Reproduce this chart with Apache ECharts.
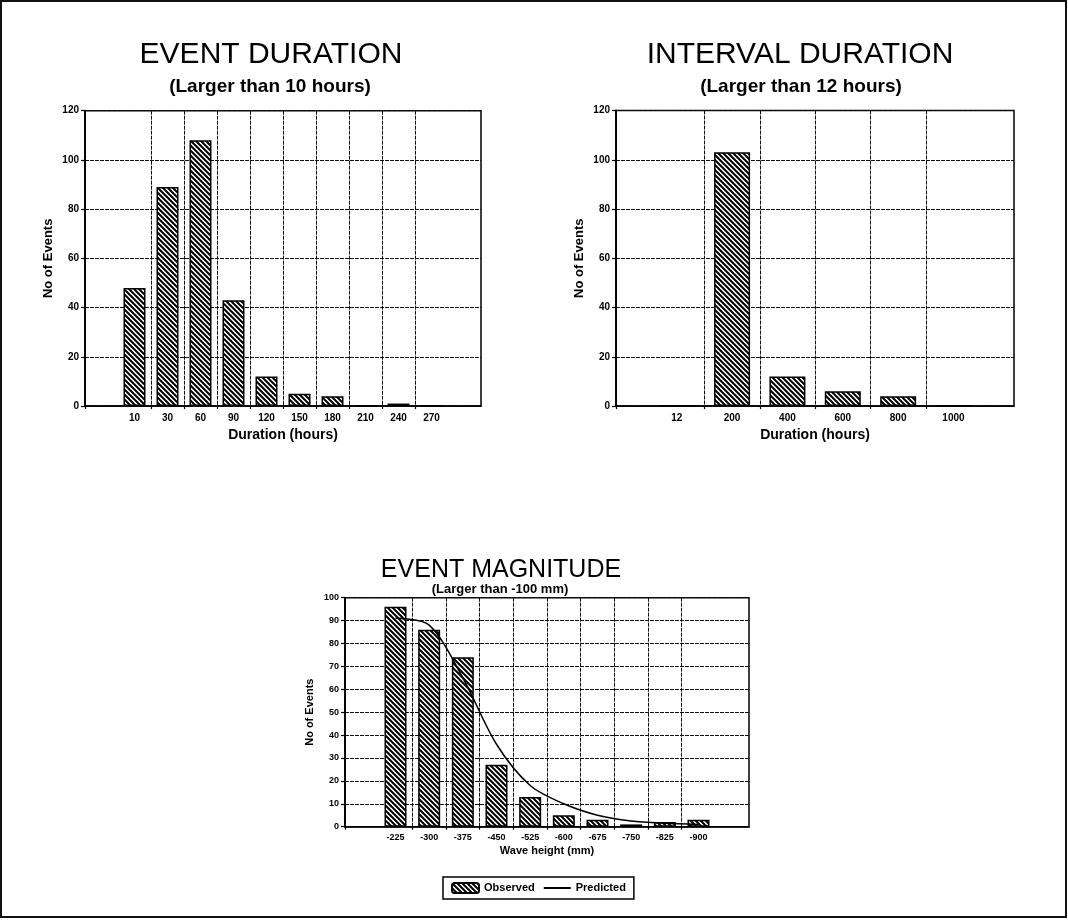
<!DOCTYPE html>
<html><head><meta charset="utf-8">
<script src="https://cdn.jsdelivr.net/npm/echarts@6/dist/echarts.min.js"></script>
<style>html,body{margin:0;padding:0;background:#fff}#c{width:1068px;height:923px}</style>
</head><body><div id="c"></div>
<script>
// ---- data ----
const durCats = ['10','30','60','90','120','150','180','210','240','270'];
const durVals = [48, 89, 108, 43, 12, 5, 4, 0, 1, 0];
const intCats = ['12','200','400','600','800','1000'];
const intVals = [0, 103, 12, 6, 4, 0];
const magCats = ['-225','-300','-375','-450','-525','-600','-675','-750','-825','-900'];
const magObserved = [96, 86, 74, 27, 13, 5, 3, 1, 2, 3];
const magPredicted = [91, 88, 65, 36, 18, 10, 5, 2.5, 1.5, 1];

const FONT = "'Liberation Sans', Arial, sans-serif";

function hatch() {
  const n = 10;
  const c = document.createElement('canvas');
  c.width = n; c.height = n;
  const g = c.getContext('2d');
  g.fillStyle = '#fff'; g.fillRect(0, 0, n, n);
  g.strokeStyle = '#000'; g.lineWidth = 2;
  for (let k = -n; k <= n; k += 5) {
    g.beginPath(); g.moveTo(-2, -2 + k); g.lineTo(n + 2, n + 2 + k); g.stroke();
  }
  return c;
}
const pat = { image: hatch(), repeat: 'repeat' };

const gridLine = { show: true, lineStyle: { color: '#111', width: 1, type: [4, 1] } };

function xAxisFor(gi, cats, min, max, fs, margin, name, nameGap, nameFs) {
  const idx = cats.map((_, i) => i);
  const bounds = [min].concat(cats.slice(0, -1).map((_, i) => i + 0.5));
  return {
    type: 'value', gridIndex: gi, min: min, max: max,
    name: name, nameLocation: 'middle', nameGap: nameGap,
    nameTextStyle: { fontFamily: FONT, fontWeight: 'bold', fontSize: nameFs, color: '#000' },
    axisLine: { show: true, onZero: false, lineStyle: { color: '#000', width: 1.5 } },
    axisTick: { show: true, inside: false, length: 3, customValues: bounds, lineStyle: { color: '#000', width: 1.2 } },
    axisLabel: { show: true, customValues: idx, margin: margin, fontFamily: FONT, fontWeight: 'bold', fontSize: fs, color: '#000',
      formatter: v => cats[Math.round(v)] },
    splitLine: gridLine
  };
}
function yAxisFor(gi, max, interval, fs, nameGap, nameFs) {
  return {
    type: 'value', gridIndex: gi, min: 0, max: max, interval: interval,
    name: 'No of Events', nameLocation: 'middle', nameGap: nameGap,
    nameTextStyle: { fontFamily: FONT, fontWeight: 'bold', fontSize: nameFs, color: '#000' },
    axisLine: { show: true, onZero: false, lineStyle: { color: '#000', width: 1.8 } },
    axisTick: { show: true, inside: false, length: 4, lineStyle: { color: '#000', width: 1.2 } },
    axisLabel: { margin: 6, fontFamily: FONT, fontWeight: 'bold', fontSize: fs, color: '#000' },
    splitLine: gridLine
  };
}
const barStyle = { color: pat, borderColor: '#000', borderWidth: 1.5 };

const titleStyle = (fs, bold) => ({ fontFamily: FONT, fontSize: fs, fontWeight: bold ? 'bold' : 'normal', color: '#000' });

const option = {
  backgroundColor: '#fff',
  animation: false,
  title: [
    { text: 'EVENT DURATION', left: 271, top: 40, padding: 0, textAlign: 'center', textStyle: titleStyle(30, false) },
    { text: '(Larger than 10 hours)', left: 270, top: 77, padding: 0, textAlign: 'center', textStyle: titleStyle(19, true) },
    { text: 'INTERVAL DURATION', left: 800, top: 40, padding: 0, textAlign: 'center', textStyle: titleStyle(30, false) },
    { text: '(Larger than 12 hours)', left: 801, top: 77, padding: 0, textAlign: 'center', textStyle: titleStyle(19, true) },
    { text: 'EVENT MAGNITUDE', left: 501, top: 558, padding: 0, textAlign: 'center', textStyle: titleStyle(25, false) },
    { text: '(Larger than -100 mm)', left: 500, top: 583, padding: 0, textAlign: 'center', textStyle: titleStyle(13, true) }
  ],
  legend: {
    left: 443, top: 877, padding: [5, 8], itemGap: 8, itemWidth: 27, itemHeight: 10,
    borderColor: '#000', borderWidth: 1.5, borderRadius: 0,
    data: [
      { name: 'Observed' },
      { name: 'Predicted', itemStyle: { color: 'rgba(0,0,0,0)', borderWidth: 0, opacity: 0 } }
    ],
    textStyle: { fontFamily: FONT, fontWeight: 'bold', fontSize: 11, color: '#000' }
  },
  graphic: [
    { type: 'rect', shape: { x: 1, y: 1, width: 1065, height: 916 }, style: { fill: 'none', stroke: '#111', lineWidth: 2 }, silent: true }
  ],
  grid: [
    { left: 85, top: 110.7, width: 396, height: 295.3, show: true, borderColor: '#000', borderWidth: 1.5, backgroundColor: 'transparent' },
    { left: 616, top: 110.5, width: 398, height: 295.5, show: true, borderColor: '#000', borderWidth: 1.5, backgroundColor: 'transparent' },
    { left: 345, top: 597.7, width: 404, height: 229, show: true, borderColor: '#000', borderWidth: 1.5, backgroundColor: 'transparent' }
  ],
  xAxis: [
    xAxisFor(0, durCats, -1.5, 10.5, 10, 7, 'Duration (hours)', 22, 14),
    xAxisFor(1, intCats, -1.097, 6.093, 10, 7, 'Duration (hours)', 22, 14),
    xAxisFor(2, magCats, -1.5, 10.5, 9, 6, 'Wave height (mm)', 19, 11)
  ],
  yAxis: [
    yAxisFor(0, 120, 20, 10, 30, 13),
    yAxisFor(1, 120, 20, 10, 30, 13),
    yAxisFor(2, 100, 10, 9, 30, 11)
  ],
  series: [
    { name: 'Event duration', type: 'bar', xAxisIndex: 0, yAxisIndex: 0, barWidth: 22,
      data: durVals.map((v, i) => [i, v]), itemStyle: barStyle },
    { name: 'Interval duration', type: 'bar', xAxisIndex: 1, yAxisIndex: 1, barWidth: 36,
      data: intVals.map((v, i) => [i, v]), itemStyle: barStyle },
    { name: 'Observed', type: 'bar', xAxisIndex: 2, yAxisIndex: 2, barWidth: 22,
      data: magObserved.map((v, i) => [i, v]), itemStyle: barStyle },
    { name: 'Predicted', type: 'line', xAxisIndex: 2, yAxisIndex: 2, smooth: 0.3, symbol: 'none',
      data: magPredicted.map((v, i) => [i, v]), lineStyle: { color: '#000', width: 1.5 }, itemStyle: { color: '#000' } }
  ]
};
const chart = echarts.init(document.getElementById('c'), null, { renderer: 'canvas' });
chart.setOption(option);
</script>
</body></html>
